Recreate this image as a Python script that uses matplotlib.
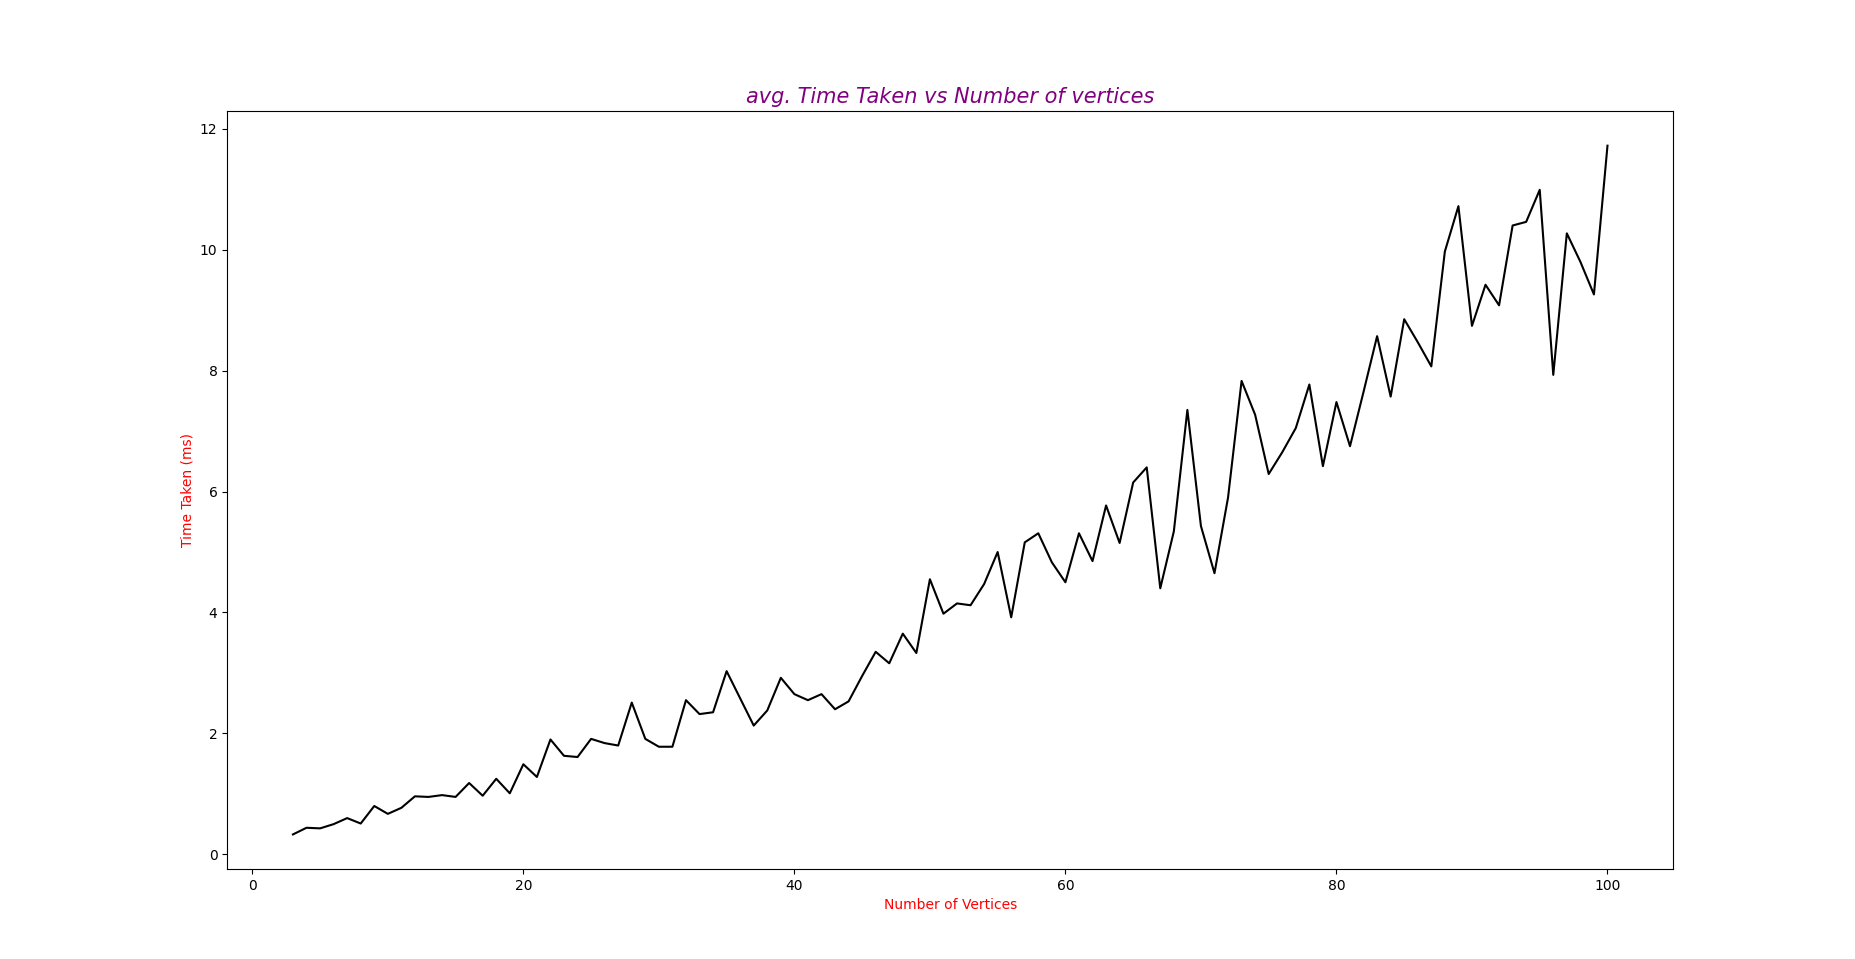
import matplotlib
matplotlib.use("Agg")
import matplotlib.pyplot as plt

vertices = list(range(3, 101))
times = [0.33, 0.44, 0.43, 0.5, 0.6, 0.51, 0.8, 0.67, 0.77, 0.96,
         0.95, 0.98, 0.95, 1.18, 0.97, 1.25, 1.01, 1.49, 1.28, 1.9,
         1.63, 1.61, 1.91, 1.84, 1.8, 2.51, 1.91, 1.78, 1.78, 2.55,
         2.32, 2.35, 3.03, 2.58, 2.13, 2.38, 2.92, 2.65, 2.55, 2.65,
         2.4, 2.53, 2.95, 3.35, 3.16, 3.65, 3.33, 4.55, 3.98, 4.15,
         4.12, 4.47, 5.0, 3.92, 5.16, 5.31, 4.83, 4.5, 5.31, 4.85,
         5.77, 5.15, 6.15, 6.4, 4.4, 5.34, 7.35, 5.43, 4.65, 5.9,
         7.83, 7.27, 6.29, 6.65, 7.05, 7.77, 6.42, 7.48, 6.75, 7.65,
         8.57, 7.57, 8.85, 8.47, 8.07, 9.97, 10.72, 8.74, 9.42, 9.08,
         10.4, 10.46, 10.99, 7.93, 10.27, 9.8, 9.26, 11.72]

fig = plt.figure(figsize=(18.55, 9.59), dpi=100)
plt.subplots_adjust(left=0.1225, right=0.902, top=0.884, bottom=0.094)
plt.plot(vertices, times, "-k", linewidth=1.5)
plt.title("avg. Time Taken vs Number of vertices", color="purple",
          fontstyle="italic", fontsize=15)
plt.xlabel("Number of Vertices", color="red")
plt.ylabel("Time Taken (ms)", color="red")
plt.savefig("out.png")
